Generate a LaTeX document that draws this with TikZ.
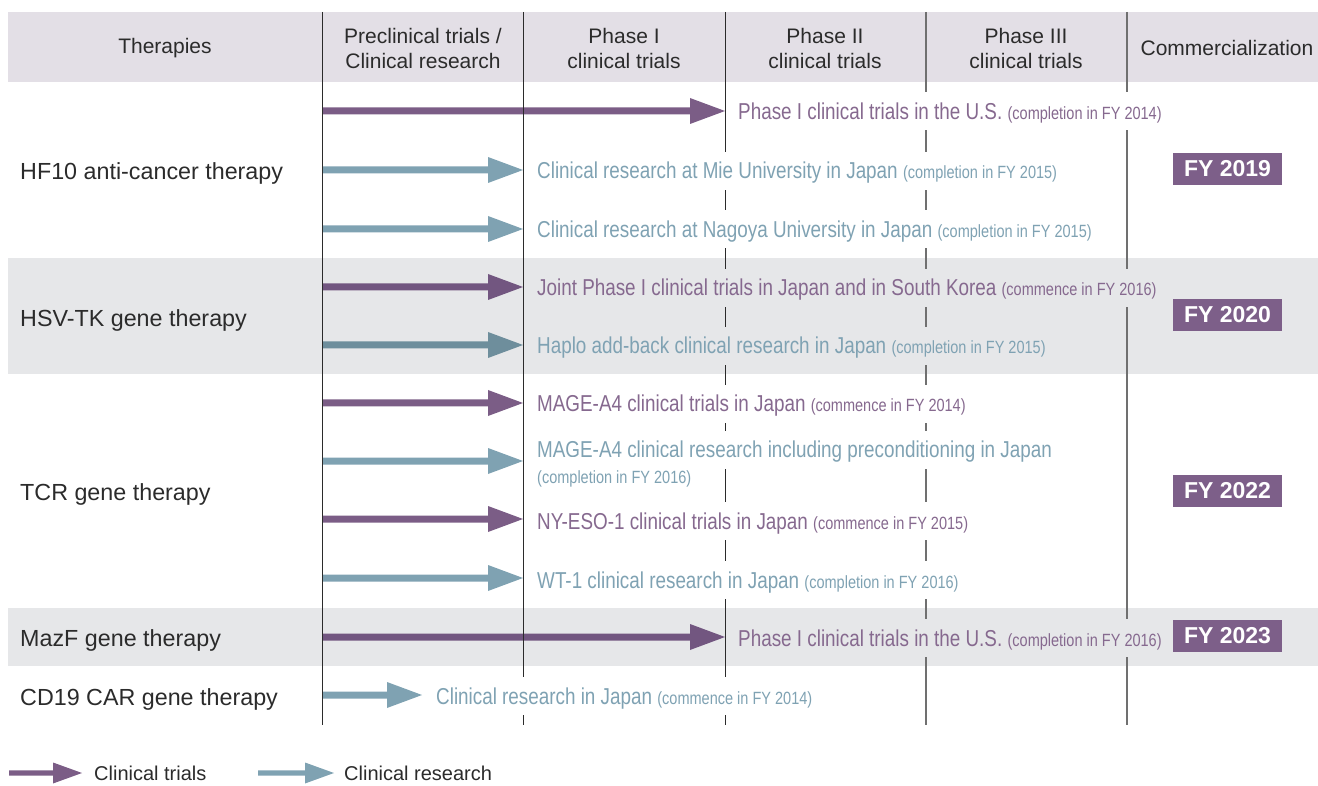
\documentclass[tikz,border=0pt]{standalone}
\usepackage{fontspec}
\setmainfont{Liberation Sans}
\newfontfamily\condfont[FakeStretch=0.82]{Liberation Sans}
\usetikzlibrary{calc}

\definecolor{headbg}{HTML}{E3DFE6}
\definecolor{bandbg}{HTML}{E6E7E9}
\definecolor{trialc}{HTML}{7B5D86}
\definecolor{trialdark}{HTML}{725680}
\definecolor{resc}{HTML}{7FA2B2}
\definecolor{resdark}{HTML}{6E8E9C}
\definecolor{trialtxt}{HTML}{86698F}
\definecolor{restxt}{HTML}{7FA2B3}
\definecolor{boxc}{HTML}{7D5F89}
\definecolor{inkc}{HTML}{2B2B2B}
\definecolor{gridgray}{HTML}{707070}

% small parenthetical note inside a row text
\newcommand\smallnote[1]{{\fontsize{17.7}{17.7}\selectfont #1}}

% thick arrow: colour, start coordinate, tip coordinate
\newcommand\fatarrow[3]{%
  \fill[#1] ($(#2)+(0,-3.5)$) -- ($(#3)+(-35,-3.5)$) -- ($(#3)+(-35,-13)$)
    -- (#3) -- ($(#3)+(-35,13)$) -- ($(#3)+(-35,3.5)$) -- ($(#2)+(0,3.5)$) -- cycle;}
% smaller arrow for the key
\newcommand\keyarrow[3]{%
  \fill[#1] ($(#2)+(0,-2.6)$) -- ($(#3)+(-29,-2.6)$) -- ($(#3)+(-29,-10.5)$)
    -- (#3) -- ($(#3)+(-29,10.5)$) -- ($(#3)+(-29,2.6)$) -- ($(#2)+(0,2.6)$) -- cycle;}

\tikzset{
  headtxt/.style={font=\fontsize{21}{25}\selectfont, text=inkc, align=center, inner sep=0},
  therapy/.style={anchor=base west, font=\fontsize{23.3}{23.3}\selectfont, text=inkc, inner sep=0},
  item/.style={anchor=base west, inner sep=0, text height=27pt, text depth=11pt,
    font=\condfont\fontsize{23}{23}\selectfont},
  trialtext/.style={item, text=trialtxt},
  restext/.style={item, text=restxt},
  fybox/.style={fill=boxc, text=white, font=\bfseries\fontsize{23}{23}\selectfont,
    minimum width=109pt, minimum height=32pt, inner sep=0},
  darkline/.style={draw=inkc, line width=1pt},
  grayline/.style={draw=gridgray, line width=1.3pt},
  keytxt/.style={anchor=base west, font=\fontsize{20}{20}\selectfont, text=inkc, inner sep=0},
}

\begin{document}
\begin{tikzpicture}[x=1pt,y=-1pt]
\useasboundingbox (0,0) rectangle (1318,786);

% background bands
\fill[headbg] (8,12) rectangle (1318,82);
\fill[bandbg] (8,258) rectangle (1318,374);
\fill[bandbg] (8,608) rectangle (1318,666);

% arrow end points
\coordinate (s1) at (322,111);  \coordinate (e1) at (725,111);
\coordinate (s2) at (322,170);  \coordinate (e2) at (523,170);
\coordinate (s3) at (322,229);  \coordinate (e3) at (523,229);
\coordinate (s4) at (322,287);  \coordinate (e4) at (523,287);
\coordinate (s5) at (322,345);  \coordinate (e5) at (523,345);
\coordinate (s6) at (322,403);  \coordinate (e6) at (523,403);
\coordinate (s7) at (322,461);  \coordinate (e7) at (523,461);
\coordinate (s8) at (322,519);  \coordinate (e8) at (523,519);
\coordinate (s9) at (322,578);  \coordinate (e9) at (523,578);
\coordinate (s10) at (322,637); \coordinate (e10) at (725,637);
\coordinate (s11) at (322,695); \coordinate (e11) at (422,695);

\fatarrow{trialc}{s1}{e1}
\fatarrow{resc}{s2}{e2}
\fatarrow{resc}{s3}{e3}
\fatarrow{trialdark}{s4}{e4}
\fatarrow{resdark}{s5}{e5}
\fatarrow{trialc}{s6}{e6}
\fatarrow{resc}{s7}{e7}
\fatarrow{trialc}{s8}{e8}
\fatarrow{resc}{s9}{e9}
\fatarrow{trialdark}{s10}{e10}
\fatarrow{resc}{s11}{e11}

% column rules
\coordinate (c1t) at (322,12);  \coordinate (c1b) at (322,725);
\coordinate (c2t) at (523,12);  \coordinate (c2b) at (523,725);
\coordinate (c3t) at (725,12);  \coordinate (c3b) at (725,725);
\coordinate (c4t) at (926,12);  \coordinate (c4b) at (926,725);
\coordinate (c5t) at (1127,12); \coordinate (c5b) at (1127,725);
\draw[darkline] (c1t) -- (c1b);
\draw[darkline] (c2t) -- (c2b);
\draw[darkline] (c3t) -- (c3b);
\draw[grayline] (c4t) -- (c4b);
\draw[grayline] (c5t) -- (c5b);

% header
\node[headtxt] (hTher) at (165,48) {Therapies};
\node[headtxt] (hPre) at (423,48.5) {Preclinical trials /\\Clinical research};
\node[headtxt] (hP1) at (624,48.5) {Phase I\\clinical trials};
\node[headtxt] (hP2) at (825,48.5) {Phase II\\clinical trials};
\node[headtxt] (hP3) at (1026,48.5) {Phase III\\clinical trials};
\node[headtxt] (hCom) at (1227,48) {Commercialization};

% therapies
\node[therapy] (tHF) at (20,179.5) {HF10 anti-cancer therapy};
\node[therapy] (tHSV) at (20,326.5) {HSV-TK gene therapy};
\node[therapy] (tTCR) at (20,500.5) {TCR gene therapy};
\node[therapy] (tMaz) at (20,646.5) {MazF gene therapy};
\node[therapy] (tCD) at (20,705.5) {CD19 CAR gene therapy};

% row texts (filled so that they break the column rules)
\node[trialtext, fill=white] (r1) at (738,119.5) {Phase I clinical trials in the U.S. \smallnote{(completion in FY 2014)}};
\node[restext, fill=white] (r2) at (537,179) {Clinical research at Mie University in Japan \smallnote{(completion in FY 2015)}};
\node[restext, fill=white] (r3) at (537,237.5) {Clinical research at Nagoya University in Japan \smallnote{(completion in FY 2015)}};
\node[trialtext, fill=bandbg] (r4) at (537,296) {Joint Phase I clinical trials in Japan and in South Korea \smallnote{(commence in FY 2016)}};
\node[restext, fill=bandbg] (r5) at (537,354) {Haplo add-back clinical research in Japan \smallnote{(completion in FY 2015)}};
\node[trialtext, fill=white] (r6) at (537,412) {MAGE-A4 clinical trials in Japan \smallnote{(commence in FY 2014)}};
\node[restext, fill=white] (r7) at (537,457.5) {MAGE-A4 clinical research including preconditioning in Japan};
\node[restext, fill=white] (r7b) at (537,483.5) {\smallnote{(completion in FY 2016)}};
\node[trialtext, fill=white] (r8) at (537,529) {NY-ESO-1 clinical trials in Japan \smallnote{(commence in FY 2015)}};
\node[restext, fill=white] (r9) at (537,588) {WT-1 clinical research in Japan \smallnote{(completion in FY 2016)}};
\node[trialtext, fill=bandbg] (r10) at (738,646) {Phase I clinical trials in the U.S. \smallnote{(completion in FY 2016)}};
\node[restext, fill=white] (r11) at (436,704) {Clinical research in Japan \smallnote{(commence in FY 2014)}};

% launch years
\node[fybox] (fy19) at (1227.5,169) {FY 2019};
\node[fybox] (fy20) at (1227.5,315) {FY 2020};
\node[fybox] (fy22) at (1227.5,491) {FY 2022};
\node[fybox] (fy23) at (1227.5,636) {FY 2023};

% key
\coordinate (k1s) at (9,773);   \coordinate (k1e) at (82,773);
\coordinate (k2s) at (258,773); \coordinate (k2e) at (334,773);
\keyarrow{trialc}{k1s}{k1e}
\keyarrow{resc}{k2s}{k2e}
\node[keytxt] (kTrial) at (94,780.5) {Clinical trials};
\node[keytxt] (kRes) at (344,780.5) {Clinical research};
\end{tikzpicture}
\end{document}
